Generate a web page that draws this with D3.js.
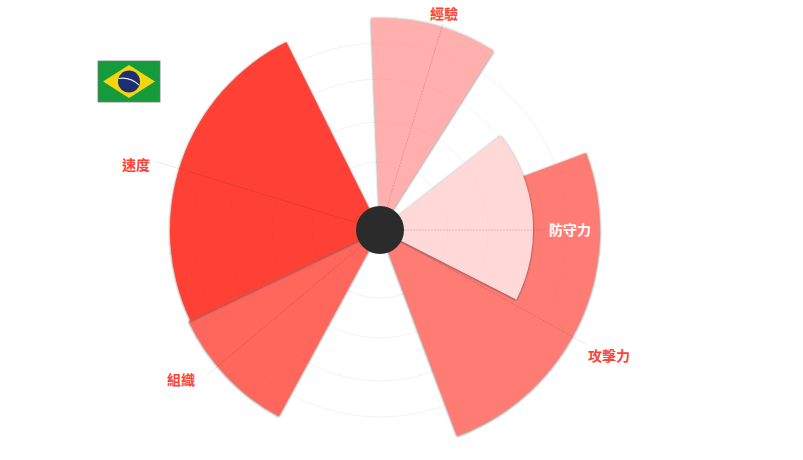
<!DOCTYPE html>
<html>
<head>
<meta charset="utf-8">
<script src="https://cdnjs.cloudflare.com/ajax/libs/d3/7.8.5/d3.min.js"></script>
<style>
html, body { margin: 0; background: #fff; }
text { font-family: "Noto Sans CJK TC", sans-serif; font-size: 14px; font-weight: 700; }
</style>
</head>
<body>
<script>
var categories = ["防守力", "攻擊力", "組織", "速度", "經驗"];
var axisAngles = [90, 119, 230, 287, 17];
var startAngles = [52, 69.5, 208.5, 244.5, -2.4];
var endAngles = [117, 159.5, 244.5, 333.5, 32.4];
var values = [153, 220, 212, 210, 212];
var sliceColors = ["#ffd8d8", "#ff7b75", "#ff665c", "#ff4136", "#ffb0ae"];
var labelColors = ["#ffffff", "#ff4136", "#ff4136", "#ff4136", "#ff4136"];
var drawOrder = [1, 4, 2, 3, 0];
var gridRings = [68, 108, 151, 187];
var labelLine = [163, 235, 226, 234, 215];

var width = 803, height = 460, cx = 380, cy = 230;
var innerRadius = 24;
var rad = Math.PI / 180;

// values were read in px off the picture, so the domain is 1:1
var r = d3.scaleLinear().domain([0, 224]).range([0, 224]);

var svg = d3.select("body")
	.append("svg")
		.attr("width", width)
		.attr("height", height)
		.style("display", "block");

var defs = svg.append("defs");
var shadow = defs.append("filter")
		.attr("id", "shadow")
		.attr("x", "-20%").attr("y", "-20%")
		.attr("width", "140%").attr("height", "140%");
shadow.append("feDropShadow")
		.attr("dx", 0).attr("dy", 0.5)
		.attr("stdDeviation", 1.1)
		.attr("flood-color", "#1a2a2a")
		.attr("flood-opacity", 0.75);

var chart = svg.append("g").attr("transform", "translate(" + cx + "," + cy + ")");

chart.append("g").selectAll("circle")
		.data(gridRings)
	.enter()
	.append("circle")
		.attr("r", function(d) { return r(d); })
		.attr("fill", "none")
		.attr("stroke", "#f3f3f3")
		.attr("stroke-width", 0.8);

var arc = d3.arc().innerRadius(0);

chart.append("g").selectAll("path")
		.data(drawOrder)
	.enter()
	.append("path")
		.attr("d", function(i) {
			return arc({ startAngle: startAngles[i] * rad, endAngle: endAngles[i] * rad, outerRadius: r(values[i]) });
		})
		.attr("fill", function(i) { return sliceColors[i]; })
		.attr("filter", "url(#shadow)");

// rings show faintly through the slices
chart.append("g").selectAll("circle")
		.data(gridRings)
	.enter()
	.append("circle")
		.attr("r", function(d) { return r(d); })
		.attr("fill", "none")
		.attr("stroke", "#000")
		.attr("stroke-opacity", 0.022)
		.attr("stroke-width", 0.8);

chart.append("g").selectAll("line")
		.data(categories)
	.enter()
	.append("line")
		.attr("x1", 0).attr("y1", 0)
		.attr("x2", function(d, i) { return Math.sin(axisAngles[i] * rad) * r(labelLine[i]); })
		.attr("y2", function(d, i) { return -Math.cos(axisAngles[i] * rad) * r(labelLine[i]); })
		.attr("stroke", "#000")
		.attr("stroke-opacity", 0.2)
		.attr("stroke-width", 0.7)
		.attr("stroke-dasharray", "2,1");

chart.append("circle")
		.attr("r", innerRadius)
		.attr("fill", "#2b2b2b");

var labelX = [570, 609, 181, 136, 444];
var labelY = [228.5, 354.5, 378.5, 163.5, 13];
svg.append("g").selectAll("text")
		.data(categories)
	.enter()
	.append("text")
		.attr("x", function(d, i) { return labelX[i]; })
		.attr("y", function(d, i) { return labelY[i]; })
		.attr("text-anchor", "middle")
		.attr("dominant-baseline", "central")
		.attr("fill", function(d, i) { return labelColors[i]; })
		.text(function(d) { return d; });

// flag
var flag = svg.append("g").attr("transform", "translate(98,61)");
flag.append("rect")
		.attr("x", 0).attr("y", 0)
		.attr("width", 62).attr("height", 41)
		.attr("fill", "#169b3c")
		.attr("stroke", "#777")
		.attr("stroke-width", 0.8);
flag.append("polygon")
		.attr("points", "5,20.5 31,4 57,20.5 31,37")
		.attr("fill", "#f5d410");
flag.append("circle")
		.attr("cx", 31).attr("cy", 20.5).attr("r", 11)
		.attr("fill", "#1d2f70");
flag.append("path")
		.attr("d", "M20.5,17.5 Q32,15.5 41,24")
		.attr("fill", "none")
		.attr("stroke", "#e8eef0")
		.attr("stroke-width", 1.1);
</script>
</body>
</html>
